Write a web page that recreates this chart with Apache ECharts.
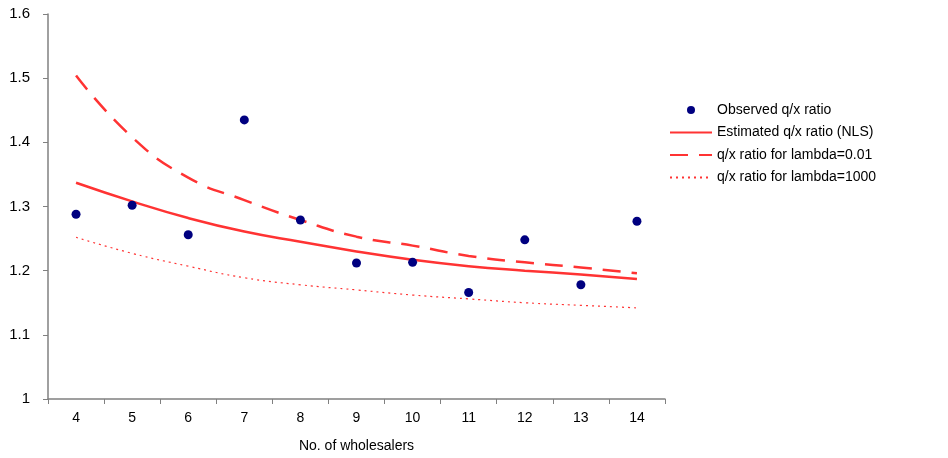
<!DOCTYPE html>
<html>
<head>
<meta charset="utf-8">
<script src="https://cdn.jsdelivr.net/npm/echarts@6/dist/echarts.min.js"></script>
<style>
  html, body { margin: 0; padding: 0; background: #fff; }
  #chart { width: 948px; height: 458px; }
</style>
</head>
<body>
<div id="chart"></div>
<script>
// No. of wholesalers
const wholesalers = ['4', '5', '6', '7', '8', '9', '10', '11', '12', '13', '14'];

const observed  = [1.288, 1.302, 1.256, 1.435, 1.279, 1.212, 1.213, 1.166, 1.248, 1.178, 1.277];
const estimated = [1.337, 1.308, 1.282, 1.261, 1.245, 1.230, 1.217, 1.207, 1.200, 1.194, 1.187];
const lambda001 = [1.504, 1.408, 1.345, 1.310, 1.279, 1.253, 1.239, 1.223, 1.213, 1.205, 1.196];
const lambda1000 = [1.252, 1.227, 1.207, 1.189, 1.178, 1.170, 1.162, 1.156, 1.150, 1.146, 1.142];

const font = 'Liberation Sans, Arial, sans-serif';
const red = '#ff3333';
const hideSymbol = {opacity: 0};

const chart = echarts.init(document.getElementById('chart'));

chart.setOption({
    animation: false,
    textStyle: {fontFamily: font},
    grid: {left: 48, right: 283, top: 14, bottom: 59, containLabel: false, outerBoundsMode: 'none'},
    legend: {
        orient: 'vertical',
        left: 664,
        top: 98,
        itemWidth: 42,
        itemHeight: 8,
        itemGap: 8.5,
        textStyle: {fontFamily: font, fontSize: 14, color: '#000', lineHeight: 14},
        data: [
            {name: 'Observed q/x ratio', icon: 'circle'},
            {name: 'Estimated q/x ratio (NLS)', itemStyle: hideSymbol},
            {name: 'q/x ratio for lambda=0.01', itemStyle: hideSymbol},
            {name: 'q/x ratio for lambda=1000', itemStyle: hideSymbol}
        ]
    },
    xAxis: {
        type: 'category',
        data: wholesalers,
        boundaryGap: true,
        name: 'No. of wholesalers',
        nameLocation: 'middle',
        nameGap: 40,
        nameTextStyle: {fontFamily: font, fontSize: 14, color: '#000'},
        axisLine: {lineStyle: {color: '#808080', width: 1.5}},
        axisTick: {show: true, inside: false, length: 5, alignWithLabel: false, lineStyle: {color: '#808080'}},
        axisLabel: {fontFamily: font, fontSize: 14, color: '#000', margin: 12},
        splitLine: {show: false}
    },
    yAxis: {
        type: 'value',
        min: 1,
        max: 1.6,
        interval: 0.1,
        axisLine: {show: true, lineStyle: {color: '#808080', width: 1.5}},
        axisTick: {show: true, inside: false, length: 5, lineStyle: {color: '#808080'}},
        axisLabel: {fontFamily: font, fontSize: 15, color: '#000', margin: 18},
        splitLine: {show: false}
    },
    series: [
        {
            name: 'Observed q/x ratio',
            type: 'scatter',
            data: observed,
            symbol: 'circle',
            symbolSize: 9,
            itemStyle: {color: '#000080', opacity: 1},
            z: 5
        },
        {
            name: 'Estimated q/x ratio (NLS)',
            type: 'line',
            data: estimated,
            smooth: true,
            symbol: 'none',
            lineStyle: {color: red, width: 2.5, type: 'solid'},
            itemStyle: {color: red}
        },
        {
            name: 'q/x ratio for lambda=0.01',
            type: 'line',
            data: lambda001,
            smooth: true,
            symbol: 'none',
            lineStyle: {color: red, width: 2.5, type: [18, 11]},
            itemStyle: {color: red}
        },
        {
            name: 'q/x ratio for lambda=1000',
            type: 'line',
            data: lambda1000,
            smooth: true,
            symbol: 'none',
            lineStyle: {color: red, width: 1.2, type: [2, 4]},
            itemStyle: {color: red}
        }
    ]
});
</script>
</body>
</html>
